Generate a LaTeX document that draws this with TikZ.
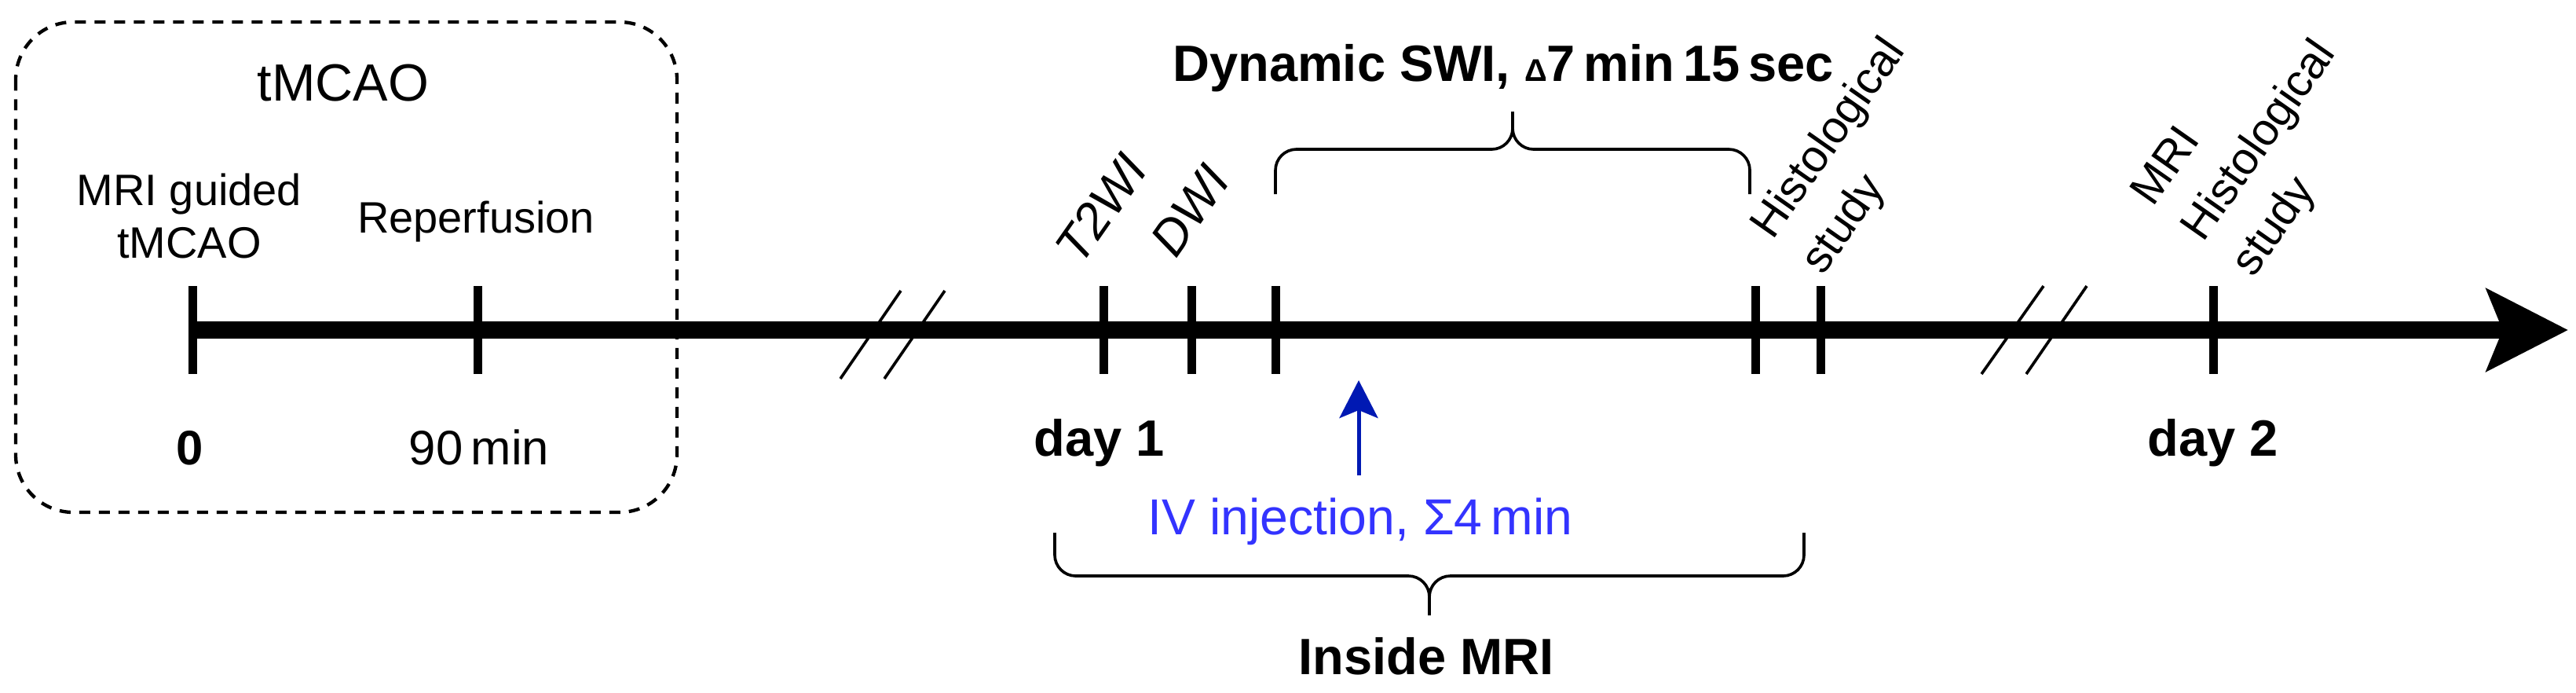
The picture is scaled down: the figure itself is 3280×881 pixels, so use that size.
\documentclass[tikz,border=0pt]{standalone}
\usepackage{fontspec}
\setmainfont{Liberation Sans}
\usetikzlibrary{arrows.meta}
\definecolor{ivblue}{RGB}{51,51,255}
\definecolor{arrblue}{RGB}{0,25,179}
\begin{document}
\begin{tikzpicture}[x=0.3pt,y=-0.3pt,
  axisline/.style={line width=6.6pt,-{Stealth[length=31pt,width=31pt,inset=6pt]}},
  tickmark/.style={line width=3.3pt},
  breakline/.style={line width=1.1pt},
  bracestyle/.style={line width=1.1pt,rounded corners=8pt},
  boxstyle/.style={line width=1.3pt,dash pattern=on 4.2pt off 3.3pt,rounded corners=22pt},
  txtbig/.style={font=\bfseries\fontsize{19.5}{23}\selectfont,inner sep=0pt},
  txttitle/.style={font=\fontsize{20}{24}\selectfont,inner sep=0pt},
  txtmid/.style={font=\fontsize{16.8}{20}\selectfont,inner sep=0pt,align=center},
  txtnum/.style={font=\fontsize{18.5}{22}\selectfont,inner sep=0pt},
  rotit/.style={font=\itshape\fontsize{19}{23}\selectfont,inner sep=0pt,rotate=55},
  rotlbl/.style={font=\fontsize{17.3}{23.4}\selectfont,inner sep=0pt,rotate=55,align=left},
  ivtext/.style={font=\fontsize{19.3}{23}\selectfont,inner sep=0pt,text=ivblue},
  ivarrow/.style={draw=arrblue,line width=1.5pt,-{Stealth[length=14.4pt,width=14.7pt,inset=3pt]}}
]
\useasboundingbox (0,0) rectangle (3280,881);

% dashed tMCAO box
\draw[boxstyle] (20,28) rectangle (862,652);
\node[txttitle,anchor=base] (title) at (437,128) {tMCAO};

% axis
\coordinate (axstart) at (245,420);
\coordinate (axend) at (3270,420);
\draw[axisline] (axstart) -- (axend);

% ticks
\foreach \n/\x in {t0/245,t90/608,tT2/1405,tDWI/1517,tS1/1624,tS2/2235,tH1/2318,tD2/2818}{
  \coordinate (\n top) at (\x,364);
  \coordinate (\n bot) at (\x,476);
  \draw[tickmark] (\n top) -- (\n bot);
}

% break marks
\coordinate (b1a) at (1070,482); \coordinate (b1b) at (1147,370);
\coordinate (b2a) at (1126,482); \coordinate (b2b) at (1203,370);
\coordinate (b3a) at (2523,476); \coordinate (b3b) at (2602,364);
\coordinate (b4a) at (2580,476); \coordinate (b4b) at (2657,364);
\draw[breakline] (b1a) -- (b1b);
\draw[breakline] (b2a) -- (b2b);
\draw[breakline] (b3a) -- (b3b);
\draw[breakline] (b4a) -- (b4b);

% labels left box
\node[txtmid] (mri) at (241,275) {MRI guided\\tMCAO};
\node[txtmid,anchor=base] (rep) at (606,296) {Reperfusion};
\node[txtnum,anchor=base,font=\bfseries\fontsize{18.5}{22}\selectfont] (zero) at (242,591) {0};
\node[txtnum,anchor=base] (ninety) at (610,591) {90\,min};

% day labels
\node[txtbig,anchor=base] (day1) at (1400,580) {day 1};
\node[txtbig,anchor=base] (day2) at (2818,580) {day 2};

% rotated labels
\node[rotit] (t2wi) at (1402,265) {T2WI};
\node[rotit] (dwi) at (1515,268) {DWI};
\node[rotlbl] (hist1) at (2362,200) {Histological\\study};
\node[rotlbl] (hist2) at (2879,181) {MRI\\Histological\\study};

% top brace
\coordinate (tbL) at (1624,247); \coordinate (tbR) at (2228,247);
\coordinate (tbM) at (1926,190); \coordinate (tbT) at (1926,142);
\draw[bracestyle] (tbL) -- (1624,190) -- (tbM) -- (tbT);
\draw[bracestyle] (tbR) -- (2228,190) -- (tbM) -- (tbT);
\node[txtbig,anchor=base] (dyn) at (1914,103) {Dynamic SWI, {\fontsize{12}{12}\selectfont Δ}7\,min\,15\,sec};

% bottom brace
\coordinate (bbL) at (1343,678); \coordinate (bbR) at (2297,678);
\coordinate (bbM) at (1820,733); \coordinate (bbT) at (1820,783);
\draw[bracestyle] (bbL) -- (1343,733) -- (bbM) -- (bbT);
\draw[bracestyle] (bbR) -- (2297,733) -- (bbM) -- (bbT);
\node[txtbig,anchor=base] (inside) at (1816,858) {Inside MRI};

% IV injection
\coordinate (ivbot) at (1730,605);
\coordinate (ivtop) at (1730,484);
\draw[ivarrow] (ivbot) -- (ivtop);
\node[ivtext,anchor=base] (iv) at (1732,680) {IV injection, Σ4\,min};
\end{tikzpicture}
\end{document}
